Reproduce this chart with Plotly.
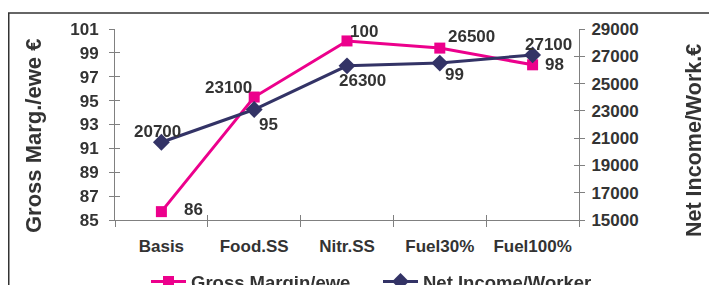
import plotly.graph_objects as go

categories = ["Basis", "Food.SS", "Nitr.SS", "Fuel30%", "Fuel100%"]
gross_margin = [85.7, 95.3, 100.0, 99.4, 98.0]
gross_labels = ["86", "95", "100", "99", "98"]
net_income = [20700, 23100, 26300, 26500, 27100]
net_labels = ["20700", "23100", "26300", "26500", "27100"]
left_ticks = [85, 87, 89, 91, 93, 95, 97, 99, 101]
right_ticks = [15000, 17000, 19000, 21000, 23000, 25000, 27000, 29000]

PINK = "#EC008C"
NAVY = "#333366"
AX = "#808080"
TXT = "#333333"
FONT = "Liberation Sans, Arial, sans-serif"

fig = go.Figure()
fig.add_trace(go.Scatter(
    x=categories, y=gross_margin, name="Gross Margin/ewe", mode="lines+markers",
    line=dict(color=PINK, width=3), marker=dict(symbol="square", size=11, color=PINK),
    xaxis="x", yaxis="y"))
fig.add_trace(go.Scatter(
    x=categories, y=net_income, name="Net Income/Worker", mode="lines+markers",
    line=dict(color=NAVY, width=3), marker=dict(symbol="diamond", size=13, color=NAVY),
    xaxis="x", yaxis="y2"))
# invisible helpers so the inner-tick axes are drawn
fig.add_trace(go.Scatter(x=categories, y=gross_margin, mode="markers", opacity=0,
                         showlegend=False, hoverinfo="skip", xaxis="x2", yaxis="y3"))
fig.add_trace(go.Scatter(x=categories, y=net_income, mode="markers", opacity=0,
                         showlegend=False, hoverinfo="skip", xaxis="x2", yaxis="y4"))

tickfont = dict(family=FONT, size=17, color=TXT, weight="bold")
titlefont = dict(family=FONT, size=22, color=TXT, weight="bold")

# plot area in figure px (page body adds an 8px offset; margins compensate)
L, T, W, H = 107, 21, 464, 191
FW, FH = 717, 285


def px(x):
    return (x - 8 - L) / W


def py(y):
    return (T + H - (y - 8)) / H


fig.update_layout(
    width=FW, height=FH,
    margin=dict(l=L, r=FW - L - W, t=T, b=FH - T - H, autoexpand=False),
    paper_bgcolor="white", plot_bgcolor="white",
    showlegend=True,
    legend=dict(orientation="h", x=px(146), y=py(282),
                xanchor="left", yanchor="middle",
                font=dict(family=FONT, size=18.5, color=TXT, weight="bold"),
                itemwidth=35, entrywidth=182, entrywidthmode="pixels",
                bgcolor="rgba(0,0,0,0)", traceorder="normal"),
    xaxis=dict(type="category", categoryarray=categories, showgrid=False, automargin=False,
               showline=True, linecolor=AX, linewidth=1, ticks="outside", ticklen=6,
               tickcolor=AX, tickson="boundaries", tickfont=tickfont, zeroline=False,
               range=[-0.5, 4.5], ticklabelstandoff=11),
    xaxis2=dict(type="category", overlaying="x", matches="x", showgrid=False, showline=False,
                ticks="inside", ticklen=5, tickcolor=AX, tickson="boundaries",
                showticklabels=False, side="bottom", anchor="y", automargin=False),
    yaxis=dict(range=[85, 101], tickvals=left_ticks, showgrid=False, showline=True,
               linecolor=AX, linewidth=1, ticks="outside", ticklen=5, tickcolor=AX,
               tickfont=tickfont, zeroline=False, ticklabelstandoff=7, automargin=False),
    yaxis2=dict(range=[15000, 29000], tickvals=right_ticks,
                ticktext=[str(v) for v in right_ticks], overlaying="y", side="right",
                showgrid=False, showline=True, linecolor=AX, linewidth=1, ticks="outside",
                ticklen=5, tickcolor=AX, tickfont=tickfont, zeroline=False,
                ticklabelstandoff=3, automargin=False),
    yaxis3=dict(range=[85, 101], tickvals=left_ticks, overlaying="y", side="left",
                showgrid=False, showline=False, ticks="inside", ticklen=5, tickcolor=AX,
                showticklabels=False, zeroline=False, automargin=False),
    yaxis4=dict(range=[15000, 29000], tickvals=right_ticks, overlaying="y", side="right",
                showgrid=False, showline=False, ticks="inside", ticklen=5, tickcolor=AX,
                showticklabels=False, zeroline=False, automargin=False),
)

# axis titles
fig.add_annotation(x=px(33), y=py(136), xref="paper", yref="paper", text="Gross Marg./ewe €",
                   textangle=-90, showarrow=False, font=titlefont,
                   xanchor="center", yanchor="middle")
fig.add_annotation(x=px(694), y=py(141), xref="paper", yref="paper", text="Net Income/Work.€",
                   textangle=-90, showarrow=False, font=dict(titlefont, size=21.5),
                   xanchor="center", yanchor="middle")

labfont = dict(family=FONT, size=17, color=TXT, weight="bold")
gross_shift = [(32, 2), (14, -27), (17, 9), (15, -26), (22, 0)]
net_shift = [(-4, 11), (-26, 22), (15, -15), (32, 27), (16, 10)]
for c, v, t, (dx, dy) in zip(categories, gross_margin, gross_labels, gross_shift):
    fig.add_annotation(x=c, y=v, xref="x", yref="y", text=t, showarrow=False,
                       xshift=dx, yshift=dy, font=labfont)
for c, v, t, (dx, dy) in zip(categories, net_income, net_labels, net_shift):
    fig.add_annotation(x=c, y=v, xref="x", yref="y2", text=t, showarrow=False,
                       xshift=dx, yshift=dy, font=labfont)

# outer frame (left edge sits at the page offset, so a thicker line at figure x=0)
frame = dict(color="#333333", width=1.5)
fig.add_shape(type="line", xref="paper", yref="paper", x0=px(7), x1=px(713),
              y0=py(13), y1=py(13), line=frame)
fig.add_shape(type="line", xref="paper", yref="paper", x0=px(713), x1=px(713),
              y0=py(13), y1=py(300), line=frame)
fig.add_shape(type="line", xref="paper", yref="paper", x0=px(8.5), x1=px(8.5),
              y0=py(13), y1=py(300), line=dict(color="#333333", width=2))

fig.write_html("out.html")
